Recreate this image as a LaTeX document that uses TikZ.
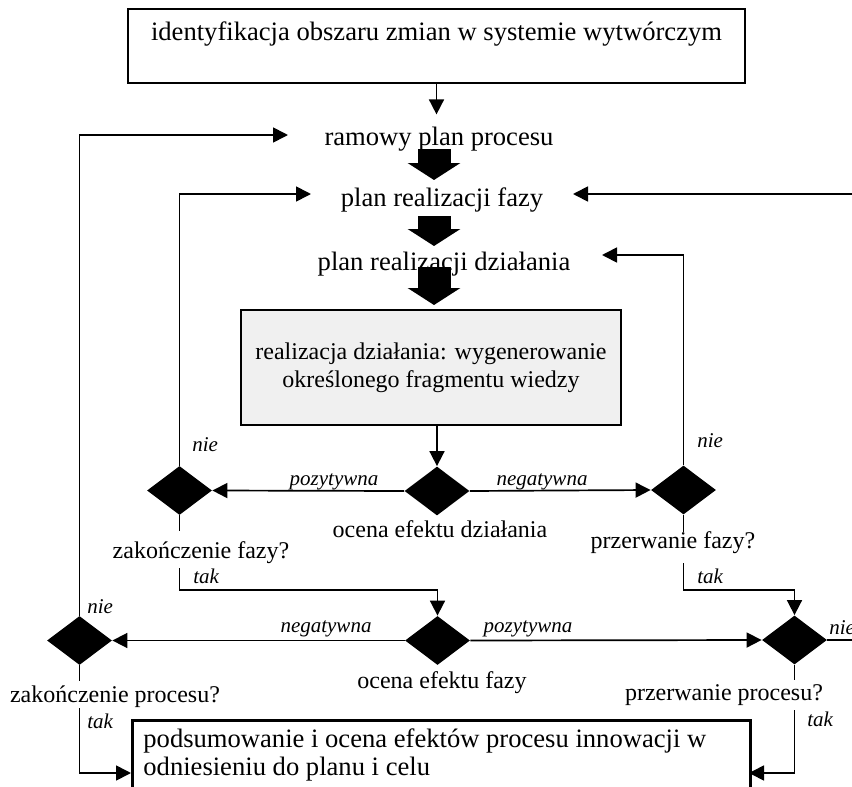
\documentclass[tikz,border=0pt]{standalone}
\usepackage{fontspec}
\setmainfont{Liberation Serif}
\usetikzlibrary{arrows.meta,shapes.geometric}
\begin{document}
\begin{tikzpicture}[x=0.5pt,y=-0.5pt,
  conn/.style={line width=0.85pt,-{Triangle[length=7.5pt,width=7.5pt]}},
  plain/.style={line width=0.85pt},
  block/.style={line width=16.5pt,-{Triangle[length=8.5pt,width=26pt]}},
  dia/.style={diamond,fill=black,inner sep=0pt,minimum width=32.5pt,minimum height=24.5pt},
  big/.style={font=\fontsize{13.3}{14}\selectfont,inner sep=0pt},
  med/.style={font=\fontsize{12}{14}\selectfont,inner sep=0pt},
  lab/.style={font=\fontsize{10.5}{12}\selectfont\itshape,inner sep=0pt},
]
\useasboundingbox (0,0) rectangle (852,787);
\clip (0,0) rectangle (852,787);

% boxes
\node[draw,line width=1.4pt,big,minimum width=308.5pt,text height=15.5pt,text depth=21.5pt] (top) at (436.5,46) {identyfikacja obszaru zmian w systemie wytwórczym};
\node[big,anchor=base] (ramowy) at (439,145) {ramowy plan procesu};
\node[big,anchor=base] (faza) at (442,206) {plan realizacji fazy};
\node[big,anchor=base] (dzial) at (444,270) {plan realizacji działania};
\node[draw,line width=1pt,fill=black!6,med,align=center,minimum width=190pt,minimum height=57.5pt] (real) at (431,367.5) {realizacja działania: wygenerowanie\\określonego fragmentu wiedzy};
\node[draw,line width=1.5pt,anchor=north west,minimum width=309pt,minimum height=60pt] (sum) at (131,719) {};
\node[big,anchor=base west] (sumtext1) at (143,747) {podsumowanie i ocena efektów procesu innowacji w};
\node[big,anchor=base west] (sumtext2) at (143,775) {odniesieniu do planu i celu};

% diamonds
\node[dia] (d1) at (179.5,490.5) {};
\node[dia] (d2) at (437,491) {};
\node[dia] (d3) at (683.5,490) {};
\node[dia] (d4) at (79.5,640.5) {};
\node[dia] (d5) at (437.5,640.5) {};
\node[dia] (d6) at (794.5,640) {};

% diamond captions
\node[med,anchor=base] (t2) at (440,537) {ocena efektu działania};
\node[med,anchor=base] (t1) at (201,558) {zakończenie fazy?};
\node[med,anchor=base] (t3) at (673,548) {przerwanie fazy?};
\node[med,anchor=base] (t5) at (442,688) {ocena efektu fazy};
\node[med,anchor=base] (t4) at (115,702) {zakończenie procesu?};
\node[med,anchor=base] (t6) at (724,700) {przerwanie procesu?};

% coordinates
\coordinate (ramL) at (288,135);
\coordinate (fazaL) at (311,194);
\coordinate (fazaR) at (573,194);
\coordinate (dzialR) at (602,255);
\coordinate (farR) at (900,640);
\coordinate (s1) at (179.5,531);
\coordinate (r1) at (179.5,568);
\coordinate (s3) at (683.5,532);
\coordinate (r3) at (683.5,563);
\coordinate (s4) at (79.5,681);
\coordinate (r4) at (79.5,708);
\coordinate (s6) at (794.5,680);
\coordinate (r6) at (794.5,710);
\coordinate (sumL) at (131,773);
\coordinate (sumR) at (749,773);
\coordinate (b1a) at (434,149);
\coordinate (b1b) at (434,180);
\coordinate (b2a) at (434,216);
\coordinate (b2b) at (434,246);
\coordinate (b3a) at (434,267);
\coordinate (b3b) at (434,305);

% connectors
\draw[conn] (top.south) -- ++(0,30);
\draw[block] (b1a) -- (b1b);
\draw[block] (b2a) -- (b2b);
\draw[block] (b3a) -- (b3b);
\draw[conn] (real.south -| d2.north) -- (d2.north);
\draw[conn] (d2.west) -- (d1.east);
\draw[conn] (d2.east) -- (d3.west);
\draw[conn] (d1.north) |- (fazaL);
\draw[conn] (d3.north) |- (dzialR);
\draw[plain] (d1.south) -- (s1);
\draw[conn] (r1) -- ++(0,22) -| (d5.north);
\draw[plain] (d3.south) -- (s3);
\draw[conn] (r3) -- ++(0,27) -| (d6.north);
\draw[conn] (d5.west) -- (d4.east);
\draw[conn] (d5.east) -- (d6.west);
\draw[conn] (d4.north) |- (ramL);
\draw[conn] (d6.east) -- (farR) |- (fazaR);
\draw[plain] (d4.south) -- (s4);
\draw[conn] (r4) |- (sumL);
\draw[plain] (d6.south) -- (s6);
\draw[conn] (r6) |- (sumR);

% labels
\node[lab,anchor=base] at (334,485) {pozytywna};
\node[lab,anchor=base] at (542,485) {negatywna};
\node[lab,anchor=base] at (326,632) {negatywna};
\node[lab,anchor=base] at (528,632) {pozytywna};
\node[lab,anchor=base west] at (192,451) {nie};
\node[lab,anchor=base west] at (193,583) {tak};
\node[lab,anchor=base west] at (697,447) {nie};
\node[lab,anchor=base west] at (697,583) {tak};
\node[lab,anchor=base west] at (87,613) {nie};
\node[lab,anchor=base west] at (87,728) {tak};
\node[lab,anchor=base west] at (829,634) {nie};
\node[lab,anchor=base west] at (807,726) {tak};
\end{tikzpicture}
\end{document}
